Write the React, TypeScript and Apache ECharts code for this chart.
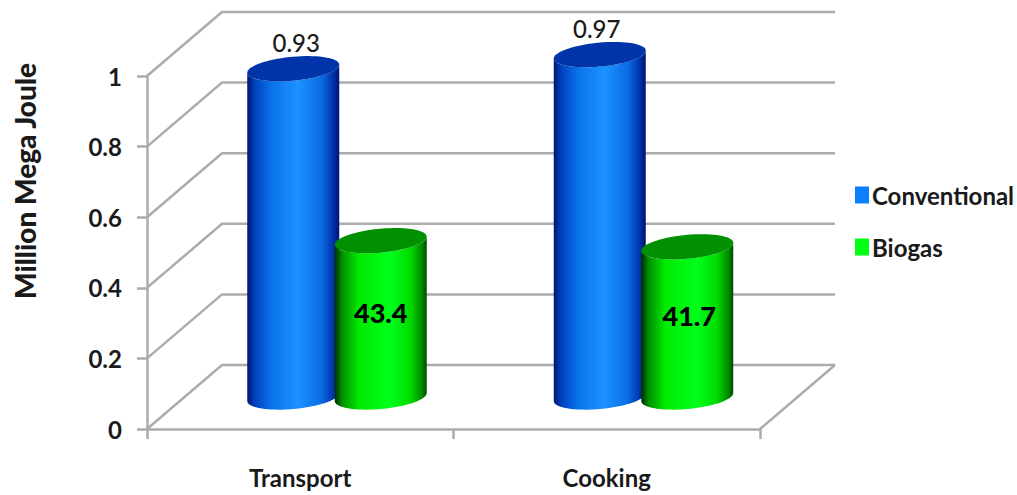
import React, { useEffect, useRef } from "react";
import * as echarts from "echarts";

const categories = ["Transport", "Cooking"];
const conventional = [0.93, 0.97];
const biogas = [43.4, 41.7];
const wallTicks = [0, 0.2, 0.4, 0.6, 0.8, 1];

const FONT = "Lato";
const GRID_LINE = "#acacac";
const INK = "#1a1a1a";

// Oblique projection used for the floor, the back wall and the cylinders.
const DEPTH_X = 75;
const DEPTH_Y = 64;
const HALF_WIDTH = 46;
const ELLIPSE_B = 12;
const ELLIPSE_SHEAR = 4;

const ellipsePoint = (cx: number, cy: number, t: number) => [
  cx + HALF_WIDTH * Math.cos(t),
  cy + ELLIPSE_B * Math.sin(t) - ELLIPSE_SHEAR * Math.cos(t),
];

const blueBody = [
  [0, "#001670"],
  [0.08, "#0040bc"],
  [0.26, "#0a72ea"],
  [0.55, "#1c92ff"],
  [0.8, "#0a6ee4"],
  [0.94, "#0030a8"],
  [1, "#001268"],
];
const greenBody = [
  [0, "#002a00"],
  [0.08, "#009000"],
  [0.26, "#00ea00"],
  [0.6, "#00ff1c"],
  [0.82, "#00dc00"],
  [0.95, "#008800"],
  [1, "#004a00"],
];

const gradient = (stops: (number | string)[][]) =>
  new echarts.graphic.LinearGradient(
    0,
    0,
    1,
    0,
    stops.map(([offset, color]) => ({ offset: offset as number, color: color as string })),
  );

function cylinderSeries(
  name: string,
  values: number[],
  yAxisIndex: number,
  xShift: number,
  stops: (number | string)[][],
  lidColor: string,
  legendColor: string,
  labelOf: (top: number, base: number) => number,
  labelDx: number[],
  labelFont: string,
  labelFill: string,
) {
  return {
    type: "custom",
    name,
    yAxisIndex,
    z: 5,
    itemStyle: { color: legendColor },
    encode: { x: 0, y: 1 },
    data: values.map((v, i) => [i, v]),
    renderItem: (_params: unknown, api: any) => {
      const index = api.value(0);
      const value = api.value(1);
      const [fx, baseFront] = api.coord([index, 0]);
      const [, topFront] = api.coord([index, value]);
      const cx = fx + DEPTH_X / 2 + xShift;
      const baseY = baseFront - DEPTH_Y / 2;
      const topY = topFront - DEPTH_Y / 2;

      const outline: number[][] = [];
      // lower arc of the base, left to right
      for (let k = 0; k <= 48; k++) {
        outline.push(ellipsePoint(cx, baseY, Math.PI - (Math.PI * k) / 48));
      }
      // upper edge follows the near side of the lid, right to left
      for (let k = 0; k <= 48; k++) {
        outline.push(ellipsePoint(cx, topY, (Math.PI * k) / 48));
      }
      const lid: number[][] = [];
      for (let k = 0; k < 72; k++) {
        lid.push(ellipsePoint(cx, topY, (2 * Math.PI * k) / 72));
      }
      return {
        type: "group",
        children: [
          {
            type: "polygon",
            shape: { points: outline },
            style: { fill: gradient(stops) },
          },
          {
            type: "polygon",
            shape: { points: lid },
            style: { fill: lidColor },
          },
          {
            type: "text",
            style: {
              x: cx + labelDx[index],
              y: labelOf(topY, baseY),
              text: String(value),
              align: "center",
              verticalAlign: "middle",
              font: labelFont,
              fill: labelFill,
            },
          },
        ],
      };
    },
  };
}

const wallSeries = {
  type: "custom",
  name: "walls",
  silent: true,
  z: 1,
  encode: { x: 0, y: 1 },
  data: wallTicks.map((v) => [0, v]),
  renderItem: (params: any, api: any) => {
    const sys = params.coordSys;
    const value = api.value(1);
    const [, y] = api.coord([0, value]);
    const left = sys.x;
    const right = sys.x + sys.width;
    const lineStyle = { stroke: GRID_LINE, lineWidth: 2.5, fill: "none" };
    const children: any[] = [
      {
        type: "polyline",
        shape: {
          points: [
            [left, y],
            [left + DEPTH_X, y - DEPTH_Y],
            [right + DEPTH_X, y - DEPTH_Y],
          ],
        },
        style: lineStyle,
      },
    ];
    if (value === 0) {
      children.push({
        type: "line",
        shape: { x1: right, y1: y, x2: right + DEPTH_X, y2: y - DEPTH_Y },
        style: lineStyle,
      });
    }
    return { type: "group", children };
  },
};

export default function App() {
  const ref = useRef<HTMLDivElement>(null);

  useEffect(() => {
    const chart = echarts.init(ref.current!, null, { renderer: "svg" });
    chart.setOption({
      animation: false,
      backgroundColor: "#ffffff",
      textStyle: { fontFamily: FONT },
      grid: { left: 147, top: 76, width: 613, height: 353 },
      xAxis: {
        type: "category",
        data: categories,
        boundaryGap: true,
        axisLine: { lineStyle: { color: GRID_LINE, width: 2.5 } },
        axisTick: { show: true, alignWithLabel: false, length: 10, lineStyle: { color: GRID_LINE, width: 2.5 } },
        axisLabel: { margin: 36, fontFamily: FONT, fontWeight: "bold", fontSize: 24, color: INK },
      },
      yAxis: [
        {
          type: "value",
          min: 0,
          max: 1,
          interval: 0.2,
          axisLine: { show: true, lineStyle: { color: GRID_LINE, width: 2.5 } },
          axisTick: { show: true, length: 10, lineStyle: { color: GRID_LINE, width: 2.5 } },
          splitLine: { show: false },
          axisLabel: {
            margin: 25,
            padding: [10, 0, 0, 0],
            fontFamily: FONT,
            fontWeight: "bold",
            fontSize: 24,
            color: INK,
          },
        },
        // Biogas shares are read on a hidden percentage scale.
        { type: "value", min: 0, max: 98, show: false, splitLine: { show: false } },
      ],
      legend: {
        orient: "vertical",
        left: 850,
        top: 178,
        itemWidth: 14,
        itemHeight: 17,
        itemGap: 28,
        data: ["Conventional", "Biogas"],
        icon: "rect",
        textStyle: { fontFamily: FONT, fontWeight: "bold", fontSize: 24, color: INK, padding: [0, 0, 0, -2] },
      },
      graphic: [
        {
          type: "text",
          x: 25,
          y: 181,
          rotation: Math.PI / 2,
          style: {
            text: "Million Mega Joule",
            align: "center",
            verticalAlign: "middle",
            font: `900 28px ${FONT}`,
            fill: INK,
          },
        },
      ],
      series: [
        wallSeries,
        cylinderSeries(
          "Conventional",
          conventional,
          0,
          -44.5,
          blueBody,
          "#0034a8",
          "#0a80ff",
          (top) => top - 26,
          [3, -3],
          `500 24px ${FONT}`,
          INK,
        ),
        cylinderSeries(
          "Biogas",
          biogas,
          1,
          43,
          greenBody,
          "#009000",
          "#00ff10",
          (top, base) => (top + base) / 2 - 6,
          [0, 2],
          `900 27px ${FONT}`,
          "#000000",
        ),
      ],
    });
    return () => chart.dispose();
  }, []);

  return <div ref={ref} style={{ position: "absolute", left: 0, top: 0, width: 1017, height: 495 }} />;
}
